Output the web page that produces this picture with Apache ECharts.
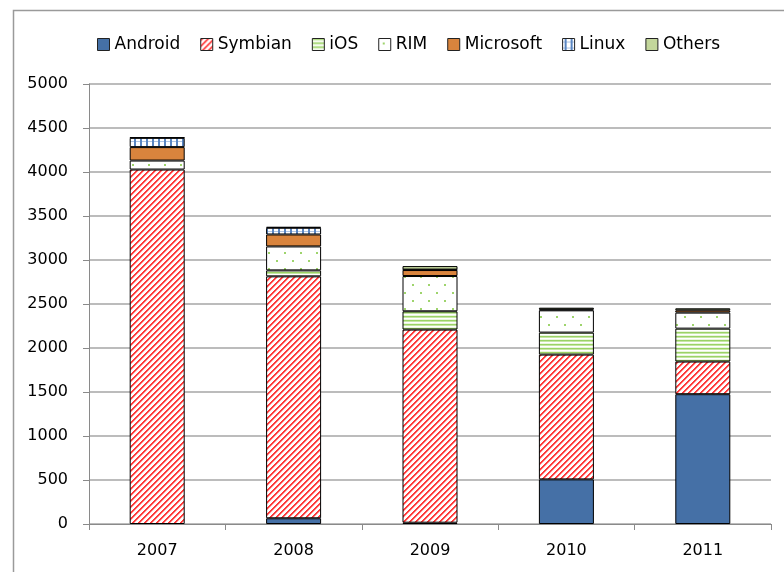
<!DOCTYPE html>
<html lang="en">
<head>
    <meta charset="UTF-8">
    <title>Smartphone OS</title>
    <script src="https://cdn.jsdelivr.net/npm/echarts@6/dist/echarts.min.js"></script>
    <style>
        html, body { margin: 0; padding: 0; background: #fff; }
    </style>
</head>
<body>
<div id="main" style="width: 784px;height: 572px;"></div>

<script type="text/javascript">
    // data
    var years = ['2007', '2008', '2009', '2010', '2011'];
    var android   = [0,    65,   15,   507,  1475];
    var symbian   = [4028, 2749, 2194, 1418, 371];
    var ios       = [0,    68,   208,  250,  374];
    var rim       = [102,  272,  401,  253,  182];
    var microsoft = [153,  136,  68,   10,   26];
    var linux     = [105,  76,   5,    0,    0];
    var others    = [5,    10,   40,   20,   23];

    // small canvas tiles for the hatch fills
    function tile(w, h, draw) {
        var c = document.createElement('canvas');
        c.width = w;
        c.height = h;
        var ctx = c.getContext('2d');
        ctx.fillStyle = '#ffffff';
        ctx.fillRect(0, 0, w, h);
        draw(ctx);
        return { image: c, repeat: 'repeat' };
    }

    var symbianFill = tile(6, 6, function (ctx) {
        for (var x = 0; x < 6; x++) {
            for (var y = 0; y < 6; y++) {
                var d = (x + y) % 6;
                if (d < 2) { ctx.fillStyle = '#ff3a3a'; ctx.fillRect(x, y, 1, 1); }
                else if (d == 2) { ctx.fillStyle = '#ffa8a8'; ctx.fillRect(x, y, 1, 1); }
            }
        }
    });
    var iosFill = tile(4, 4, function (ctx) {
        ctx.fillStyle = '#9bd266'; ctx.fillRect(0, 0, 4, 1);
        ctx.fillStyle = '#c6e7a4'; ctx.fillRect(0, 1, 4, 1);
        ctx.fillStyle = '#eaf6de'; ctx.fillRect(0, 3, 4, 1);
    });
    var rimFill = tile(16, 16, function (ctx) {
        ctx.fillStyle = '#9ed46c';
        ctx.fillRect(4, 4, 2, 2);
        ctx.fillRect(12, 12, 2, 2);
    });
    var linuxFill = tile(6, 6, function (ctx) {
        ctx.fillStyle = '#b0c6e4'; ctx.fillRect(0, 3, 6, 1);
        ctx.fillStyle = '#5a86c2'; ctx.fillRect(2, 0, 2, 6);
    });

    function bar(name, data, fill) {
        return {
            name: name,
            type: 'bar',
            stack: 'os',
            barWidth: 55,
            // a zero share draws nothing
            data: data.map(function (v) { return v === 0 ? '-' : v; }),
            itemStyle: { color: fill, borderColor: '#000', borderWidth: 1 }
        };
    }

    var myChart = echarts.init(document.getElementById('main'));
    var font = 'DejaVu Sans';
    option = {
        animation: false,
        textStyle: { fontFamily: font },
        graphic: [{
            type: 'rect',
            shape: { x: 13.5, y: 10.5, width: 900, height: 700 },
            style: { fill: 'none', stroke: '#9a9a9a', lineWidth: 1.5 }
        }],
        legend: {
            left: 92,
            top: 31,
            icon: 'rect',
            itemWidth: 12,
            itemHeight: 12,
            itemGap: 20,
            textStyle: { fontFamily: font, fontSize: 17, color: '#000' },
            itemStyle: { borderColor: '#222', borderWidth: 1 },
            data: ['Android', 'Symbian', 'iOS', 'RIM', 'Microsoft', 'Linux', 'Others']
        },
        grid: { left: 89, right: 13, top: 84, bottom: 48 },
        xAxis: {
            type: 'category',
            data: years,
            axisLine: { lineStyle: { color: '#8a8a8a', width: 1 } },
            axisTick: { show: true, length: 6, lineStyle: { color: '#8a8a8a' } },
            axisLabel: { fontSize: 16, color: '#000', margin: 19, fontFamily: font }
        },
        yAxis: {
            type: 'value',
            min: 0,
            max: 5000,
            interval: 500,
            axisLine: { show: true, lineStyle: { color: '#8a8a8a', width: 1 } },
            axisTick: { show: true, length: 6, lineStyle: { color: '#8a8a8a' } },
            axisLabel: {
                fontSize: 16, color: '#000', margin: 21, fontFamily: font,
                formatter: function (v) { return String(v); }
            },
            splitLine: { lineStyle: { color: '#a6a6a6', width: 1.5 } }
        },
        series: [
            bar('Android', android, '#4570a6'),
            bar('Symbian', symbian, symbianFill),
            bar('iOS', ios, iosFill),
            bar('RIM', rim, rimFill),
            bar('Microsoft', microsoft, '#d9843d'),
            bar('Linux', linux, linuxFill),
            bar('Others', others, '#c3d69b')
        ]
    };
    myChart.setOption(option);
</script>
</body>
</html>
